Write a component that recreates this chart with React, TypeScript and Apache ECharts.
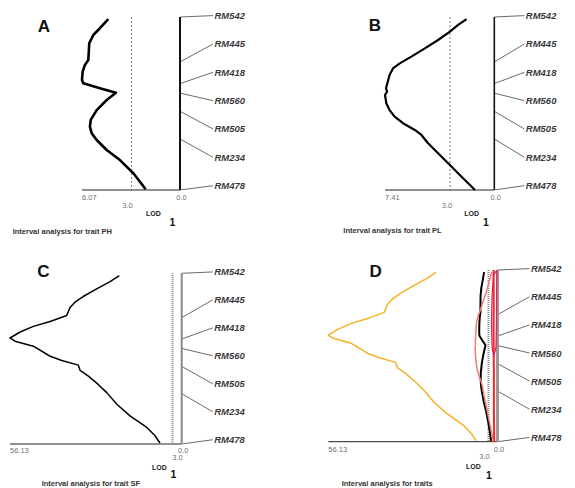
import React, { useEffect, useRef } from "react";
import * as echarts from "echarts";

// ---------------- data ----------------
const markers = ["RM542", "RM445", "RM418", "RM560", "RM505", "RM234", "RM478"];
const markerPos = [0, 26, 38.5, 44, 54.5, 70.5, 100]; // cM along chromosome 1
const LOD_THRESHOLD = 3.0;

// Trait PH
const phPos = [1.2, 6.5, 10.4, 15.2, 24.9, 27.7, 31.6, 36.4, 38.3, 41.2, 43.8, 48, 53.8, 59.5, 63.4, 67.2, 71.1, 76.9, 82.7, 90.3, 95.2, 99.6];
const phLod = [4.44, 4.96, 5.37, 5.62, 5.68, 5.89, 6.03, 6.07, 5.99, 4.96, 3.97, 4.54, 5.16, 5.53, 5.58, 5.47, 5.16, 4.54, 3.72, 2.89, 2.48, 2.13];

// Trait PL
const plPos = [1.2, 4.6, 8.5, 13.3, 18.1, 22.9, 26.8, 29.7, 33.5, 38.3, 41.2, 43.2, 45.1, 49.9, 53.8, 57.6, 61.4, 65.3, 68.2, 73, 78.8, 85.5, 92.3, 97.1, 100];
const plLod = [1.88, 2.45, 3.01, 3.81, 4.71, 5.62, 6.41, 6.87, 7.1, 7.25, 7.34, 7.27, 7.41, 7.32, 7.1, 6.76, 6.19, 5.39, 4.94, 4.49, 3.81, 3.01, 2.22, 1.65, 1.31];

// Trait SF
const sfPos = [1.4, 4.9, 9.1, 13.6, 16.9, 20, 24.7, 28.2, 31.1, 34.4, 37.9, 39.8, 42.7, 48.6, 51.1, 53.8, 56.9, 60.2, 65.1, 69.9, 76.7, 83.5, 90.3, 95.2, 99.4];
const sfLod = [20.4, 23.4, 27.8, 32.2, 34.9, 36.5, 37.6, 43.0, 48.5, 52.8, 56.13, 54.5, 48.5, 43.0, 39.2, 33.8, 33.2, 30.5, 27.3, 24.5, 21.2, 16.9, 11.4, 8.7, 7.1];

// Two further traits shown only in the combined panel
const t4Pos = [0, 20, 40, 60, 80, 100];
const t4Lod = [1.3, 1.25, 1.3, 1.2, 1.2, 1.1];
const t5Pos = [0, 15, 30, 45, 50, 45, 30, 15, 3, 0];
const t5Lod = [0.2, 0.3, 0.35, 0.5, 1.2, 1.8, 2.0, 1.8, 1.3, 0.2];

const axisMaxLabels = ["6.07", "7.41", "56.13", "56.13"];
const axisMax = [6.07, 7.41, 56.13, 56.13];
const titles = [
  "Interval analysis for trait PH",
  "Interval analysis for trait PL",
  "Interval analysis for trait SF",
  "Interval analysis for traits",
];
const panelLetters = ["A", "B", "C", "D"];

// ---------------- layout ----------------
const FONT = "Liberation Sans";
const Y_MIN = -5;
const Y_MAX = 100;
const LABEL_FIRST = -0.8;
const LABEL_LAST = 97.5;

type Curve = { pos: number[]; lod: number[]; color: string; width: number };

const panels = [
  {
    left: 82, zero: 180, top: 17, bottom: 190, connW: 33,
    chromColor: "#111", chromW: 2, thrColor: "#555", thrW: 0.8, thrDash: [2, 2],
    tickDy: 7, thrDx: -4, thrDy: 15,
    letter: [44, 26], lod: [153.3, 213.3], one: [172.3, 221.7], title: [12.7, 231.7],
    curves: [{ pos: phPos, lod: phLod, color: "#000", width: 2.6 }] as Curve[],
  },
  {
    left: 385, zero: 494.3, top: 17, bottom: 190, connW: 30,
    chromColor: "#111", chromW: 1.6, thrColor: "#555", thrW: 0.8, thrDash: [2, 2],
    tickDy: 7, thrDx: -3, thrDy: 15.7,
    letter: [375, 25], lod: [471.7, 213.3], one: [486, 221.7], title: [343.3, 230.7],
    curves: [{ pos: plPos, lod: plLod, color: "#000", width: 2.2 }] as Curve[],
  },
  {
    left: 10, zero: 181.7, top: 273.3, bottom: 444, connW: 31,
    chromColor: "#888", chromW: 2, thrColor: "#888", thrW: 2, thrDash: [1, 1],
    tickDy: 6, thrDx: 5, thrDy: 13.5,
    letter: [43.3, 271], lod: [159.3, 467], one: [173.3, 474], title: [41.7, 483],
    curves: [{ pos: sfPos, lod: sfLod, color: "#000", width: 1.5 }] as Curve[],
  },
  {
    left: 328.3, zero: 497.5, top: 270, bottom: 441.7, connW: 32,
    chromColor: "#999", chromW: 3, thrColor: "#888", thrW: 2, thrDash: [1, 1],
    tickDy: 7.3, thrDx: -4, thrDy: 14.3,
    letter: [375.7, 271.7], lod: [473.3, 466], one: [489, 475], title: [341.7, 483.3],
    curves: [
      { pos: sfPos, lod: sfLod, color: "#f6b126", width: 1.5 },
      { pos: phPos, lod: phLod, color: "#000", width: 2 },
      { pos: plPos, lod: plLod, color: "#f47a7a", width: 1.5 },
      { pos: t4Pos, lod: t4Lod, color: "#ff2222", width: 2 },
      { pos: t5Pos, lod: t5Lod, color: "#dc1f5a", width: 1.2 },
    ] as Curve[],
  },
];

function zip(x: number[], y: number[]) {
  return x.map((v, i) => [v, y[i]]);
}

function buildOption() {
  const grid: any[] = [];
  const xAxis: any[] = [];
  const yAxis: any[] = [];
  const series: any[] = [];
  const graphic: any[] = [];

  panels.forEach((p, i) => {
    const pxPerCm = (p.bottom - p.top) / 100;
    const gTop = p.top + Y_MIN * pxPerCm;
    const gH = (Y_MAX - Y_MIN) * pxPerCm;
    const yCfg = { type: "value", min: Y_MIN, max: Y_MAX, inverse: true, show: false };
    // main grid (LOD profile)
    grid.push({ left: p.left, top: gTop, width: p.zero - p.left, height: gH });
    xAxis.push({ type: "value", gridIndex: 2 * i, min: 0, max: axisMax[i], inverse: true, show: false });
    yAxis.push({ ...yCfg, gridIndex: 2 * i });
    // marker grid (connectors + names)
    grid.push({ left: p.zero, top: gTop, width: p.connW, height: gH });
    xAxis.push({ type: "value", gridIndex: 2 * i + 1, min: 0, max: 1, show: false });
    yAxis.push({ ...yCfg, gridIndex: 2 * i + 1 });

    const xi = 2 * i;
    const xr = 2 * i + 1;
    const base = { xAxisIndex: xi, yAxisIndex: xi, silent: true };

    // baseline
    series.push({
      ...base, type: "line", showSymbol: false, clip: false,
      data: [[axisMax[i], 100], [0, 100]],
      lineStyle: { color: "#222", width: 1 }, z: 2,
    });
    // threshold
    series.push({
      ...base, type: "line", showSymbol: false, clip: false,
      data: [[LOD_THRESHOLD, 0], [LOD_THRESHOLD, 100]],
      lineStyle: { color: p.thrColor, width: p.thrW, type: p.thrDash }, z: 2,
    });
    // connectors
    const labelPos = markers.map((_, k) => LABEL_FIRST + (k * (LABEL_LAST - LABEL_FIRST)) / (markers.length - 1));
    series.push({
      type: "lines", coordinateSystem: "cartesian2d", xAxisIndex: xr, yAxisIndex: xr, silent: true,
      data: markers.map((m, k) => ({ coords: [[0, markerPos[k]], [1, labelPos[k]]] })),
      lineStyle: { color: "#444", width: 0.8, opacity: 1, curveness: 0 }, z: 2,
    });
    series.push({
      type: "scatter", xAxisIndex: xr, yAxisIndex: xr, silent: true, clip: false, symbolSize: 0,
      data: markers.map((m, k) => ({ name: m, value: [1, labelPos[k]] })),
      label: {
        show: true, position: "inside", formatter: "{b}", align: "left", verticalAlign: "middle",
        offset: [1.5, 0], color: "#000", fontFamily: FONT, fontSize: 9.5, fontWeight: "bold", fontStyle: "italic",
      },
    });
    // chromosome
    series.push({
      ...base, type: "line", showSymbol: false, clip: false,
      data: [[0, markerPos[0]], [0, markerPos[markerPos.length - 1]]],
      lineStyle: { color: p.chromColor, width: p.chromW }, z: 3,
    });
    // curves
    p.curves.forEach((c) => {
      series.push({
        ...base, type: "line", showSymbol: false, clip: false,
        data: zip(c.lod, c.pos),
        lineStyle: { color: c.color, width: c.width, join: "round" }, z: 4,
      });
    });
    // tick labels
    const tickLbl = { show: true, position: "inside", verticalAlign: "middle", color: "#444", fontFamily: FONT, fontSize: 7.5 };
    series.push({
      ...base, type: "scatter", symbolSize: 0, clip: false,
      data: [
        { value: [axisMax[i], 100], label: { ...tickLbl, formatter: axisMaxLabels[i], align: "left", offset: [0, p.tickDy] } },
        { value: [0, 100], label: { ...tickLbl, formatter: "0.0", align: "center", offset: [1.5, p.tickDy] } },
        { value: [LOD_THRESHOLD, 100], label: { ...tickLbl, formatter: LOD_THRESHOLD.toFixed(1), align: "center", offset: [p.thrDx, p.thrDy] } },
      ],
    });

    const txt = (x: number, y: number, text: string, size: number, align = "center", weight = "bold", fill = "#111") => ({
      type: "text", x, y, silent: true,
      style: { text, fontSize: size, fontWeight: weight, fontFamily: FONT, fill, align, verticalAlign: "middle" },
    });
    graphic.push(txt(p.letter[0], p.letter[1], panelLetters[i], 17));
    graphic.push(txt(p.lod[0], p.lod[1], "LOD", 7, "center", "bold", "#222"));
    graphic.push(txt(p.one[0], p.one[1], "1", 10.5, "center", "bold", "#111"));
    graphic.push(txt(p.title[0], p.title[1], titles[i], 7.5, "left", "bold", "#333"));
  });

  return { animation: false, backgroundColor: "#fff", grid, xAxis, yAxis, series, graphic };
}

export default function App() {
  const ref = useRef<HTMLDivElement>(null);
  useEffect(() => {
    if (!ref.current) return;
    const chart = echarts.init(ref.current, undefined, { renderer: "svg" });
    chart.setOption(buildOption() as any);
    return () => chart.dispose();
  }, []);
  return (
    <div
      ref={ref}
      style={{ position: "absolute", left: 0, top: 0, width: 575, height: 488, background: "#fff" }}
    />
  );
}
